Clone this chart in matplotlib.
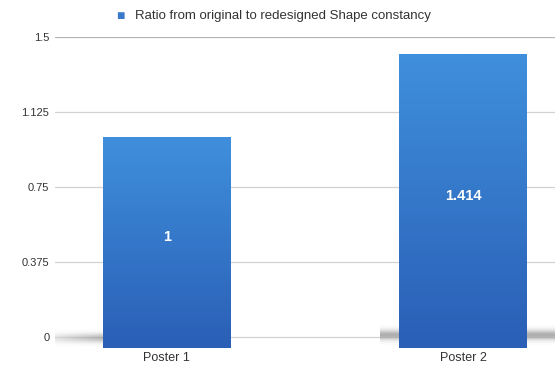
import numpy as np
import matplotlib.pyplot as plt
from matplotlib.colors import LinearSegmentedColormap

plt.rcParams['font.family'] = ['Liberation Sans', 'DejaVu Sans']

# chart data
categories = ["Poster 1", "Poster 2"]
ratios = [1.0, 1.414]
value_labels = ["1", "1.414"]
yticks = [0, 0.375, 0.75, 1.125, 1.5]
ytick_labels = ["0", "0.375", "0.75", "1.125", "1.5"]
series_name = "Ratio from original to redesigned Shape constancy"

fig = plt.figure(figsize=(5.55, 3.69), dpi=100)
ax = fig.add_axes([0.099, 0.054, 0.901, 0.8455])

x = np.arange(len(categories))
base = -0.055
width = 0.43

# grid lines
for t in yticks:
    ax.axhline(t, color="#d2d2d2" if t < 1.5 else "#b5b5b5", linewidth=0.9, zorder=0)

# soft floor shadow around the zero line
shade = LinearSegmentedColormap.from_list("shade", ["#ffffff", "#8c8c8c"])
yy = np.linspace(-1, 1, 60)[:, None]
xl = np.linspace(0, 1, 400)[None, :]
glow_left = np.exp(-(yy / 0.5) ** 2) * np.clip(xl * 1.6, 0, 1)
glow_right = np.exp(-(yy / 0.5) ** 2) * np.clip((1 - xl) * 1.6, 0, 1)
ax.imshow(glow_left, extent=(-0.47, 0.0, -0.05, 0.04), cmap=shade, alpha=0.7,
          aspect="auto", zorder=1, vmin=0, vmax=1)
ax.imshow(np.maximum(glow_left, glow_right), extent=(0.72, 1.31, -0.04, 0.06),
          cmap=shade, alpha=0.7, aspect="auto", zorder=1, vmin=0, vmax=1)

# bars with a vertical gradient
grad = LinearSegmentedColormap.from_list("bar", ["#2a5fb6", "#3f8fdc"])
bars = ax.bar(x, [r - base for r in ratios], bottom=base, width=width,
              color="#3373c8", zorder=2)
for b in bars:
    x0, y0 = b.get_x(), b.get_y()
    w, h = b.get_width(), b.get_height()
    im = ax.imshow(np.linspace(0, 1, 100)[:, None], extent=(x0, x0 + w, y0, y0 + h),
                   origin="lower", cmap=grad, aspect="auto", zorder=3)
    im.set_clip_path(b)

for xi, r, lab in zip(x, ratios, value_labels):
    ax.text(xi, r / 2, lab, color="white", fontsize=10.5, fontweight="bold",
            ha="center", va="center", zorder=4)

ax.set_xlim(-0.378, 1.31)
ax.set_ylim(-0.06, 1.5)

ax.set_yticks(yticks)
ax.set_yticklabels(ytick_labels)
ax.set_xticks(x)
ax.set_xticklabels(categories)
ax.tick_params(axis="both", length=0, colors="#333333")
ax.tick_params(axis="y", pad=4, labelsize=8)
ax.tick_params(axis="x", pad=2, labelsize=9)
for s in ax.spines.values():
    s.set_visible(False)

# legend above the plot
fig.text(0.209, 0.957, "\u25A0", color="#3a78c9", fontsize=10, ha="left", va="center")
fig.text(0.243, 0.957, series_name, color="#333333", fontsize=9.5, ha="left", va="center")

fig.savefig("out.png", dpi=100)
